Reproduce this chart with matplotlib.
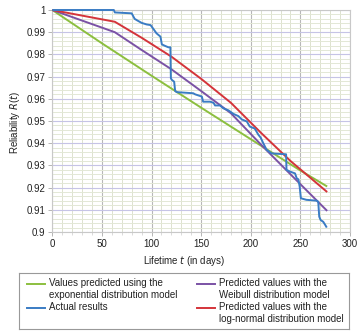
import matplotlib
matplotlib.use("Agg")
import matplotlib.pyplot as plt
from matplotlib.ticker import MultipleLocator
from matplotlib.lines import Line2D

plt.rcParams['font.family'] = ['Liberation Sans', 'DejaVu Sans']

# Exponential model
t_exp = [0, 50, 100, 150, 200, 250, 277]
r_exp = [1.0, 0.985, 0.9704, 0.956, 0.9418, 0.9277, 0.9205]

# Weibull model
t_wei = [0, 63, 90, 120, 150, 180, 210, 240, 277]
r_wei = [1.0, 0.990, 0.982, 0.9733, 0.9635, 0.9535, 0.9395, 0.926, 0.9095]

# Log-normal model
t_log = [0, 63, 90, 120, 150, 180, 210, 240, 277]
r_log = [1.0, 0.9947, 0.9875, 0.9790, 0.9690, 0.9582, 0.9448, 0.932, 0.918]

# Observed reliability
t_act = [0, 62, 63, 80, 83, 86, 90, 95, 99, 102, 105, 109, 110.4, 113.8, 117,
         119, 119.5, 120.5, 122.8, 123.8, 125.5, 142, 144, 150.7, 152, 159,
         162.5, 164, 169, 172.4, 177.5, 182.5, 187.5, 191, 196, 199, 204,
         207.7, 210, 212.8, 216, 221, 235.6, 236, 239.6, 244.6, 246.3, 248,
         249.3, 250.5, 256, 266.5, 268, 269, 270.4, 273, 275, 276.6]
r_act = [1.0, 1.0, 0.9989, 0.9985, 0.996, 0.9952, 0.9942, 0.9935, 0.9932,
         0.9914, 0.9895, 0.988, 0.9845, 0.9838, 0.9832, 0.9832, 0.9692, 0.9685,
         0.9677, 0.9635, 0.963, 0.9625, 0.962, 0.961, 0.9587, 0.9587, 0.9582,
         0.957, 0.957, 0.9557, 0.9548, 0.9532, 0.9522, 0.9507, 0.9498, 0.9475,
         0.9466, 0.9438, 0.9425, 0.9398, 0.937, 0.9354, 0.935, 0.928, 0.9272,
         0.9264, 0.9242, 0.9237, 0.9204, 0.9152, 0.9145, 0.9141, 0.9136,
         0.9069, 0.9054, 0.9046, 0.9032, 0.902]

GREEN = '#8cbf3f'
PURPLE = '#7b52a5'
BLUE = '#3a7cc4'
RED = '#d4343a'

W, H = 363, 335
fig = plt.figure(figsize=(W / 100, H / 100), dpi=100)

ax = fig.add_axes([52.3 / W, 1 - 232 / H, (350 - 52.3) / W, (232 - 10) / H])
ax.set_xlim(0, 300)
ax.set_ylim(0.9, 1.0)

ax.xaxis.set_major_locator(MultipleLocator(50))
ax.xaxis.set_minor_locator(MultipleLocator(10))
ax.yaxis.set_major_locator(MultipleLocator(0.01))
ax.yaxis.set_minor_locator(MultipleLocator(0.002))

ax.grid(True, which='minor', axis='x', color='#dde2cf', lw=0.7)
ax.grid(True, which='minor', axis='y', color='#e3e8d6', lw=0.7)
ax.grid(True, which='major', axis='x', color='#b8b8b8', lw=0.8)
ax.grid(True, which='major', axis='y', color='#c6c4e6', lw=0.8)
ax.set_axisbelow(True)

for s in ax.spines.values():
    s.set_color('#c8c8c8')
    s.set_linewidth(0.8)

ax.tick_params(axis='both', which='major', labelsize=7, color='#aaaaaa',
               length=3, width=0.6, pad=2, labelcolor='#222222')
ax.tick_params(axis='x', which='minor', color='#cccccc', length=2, width=0.5)
ax.tick_params(axis='y', which='minor', length=0)

ax.set_yticks([0.9, 0.91, 0.92, 0.93, 0.94, 0.95, 0.96, 0.97, 0.98, 0.99, 1.0])
ax.set_yticklabels(['0.9', '0.91', '0.92', '0.93', '0.94', '0.95', '0.96',
                    '0.97', '0.98', '0.99', '1'])

line_kw = dict(lw=1.4, solid_capstyle='butt', clip_on=False, zorder=3)
ax.plot(t_exp, r_exp, color=GREEN, **line_kw)
ax.plot(t_wei, r_wei, color=PURPLE, **line_kw)
ax.plot(t_log, r_log, color=RED, **line_kw)
ax.plot(t_act, r_act, color=BLUE, **line_kw)

fig.text(184 / W, 1 - 261 / H, 'Lifetime $\\mathit{t}$ (in days)', ha='center',
         va='center', fontsize=7, color='#222222')
fig.text(15 / W, 1 - 123 / H, 'Reliability $\\mathit{R}$($\\mathit{t}$)',
         rotation=90, ha='center', va='center', fontsize=7, color='#222222')

# Legend panel
lx0, lx1, ly0, ly1 = 19, 349.3, 272.7, 329.3
lax = fig.add_axes([lx0 / W, 1 - ly1 / H, (lx1 - lx0) / W, (ly1 - ly0) / H])
lax.set_xlim(lx0, lx1)
lax.set_ylim(ly1, ly0)
lax.set_xticks([])
lax.set_yticks([])
for s in lax.spines.values():
    s.set_color('#999999')
    s.set_linewidth(0.8)

entries = [
    (GREEN, 27, 283.5, 'Values predicted using the\nexponential distribution model'),
    (BLUE, 27, 307.5, 'Actual results'),
    (PURPLE, 197, 283.5, 'Predicted values with the\nWeibull distribution model'),
    (RED, 197, 307.5, 'Predicted values with the\nlog-normal distribution model'),
]
for color, x0, y0, label in entries:
    lax.add_line(Line2D([x0, x0 + 18], [y0, y0], color=color, lw=1.4))
    lax.text(x0 + 22, y0 - 5, label, ha='left', va='top', fontsize=7,
             color='#222222', linespacing=1.15)

fig.savefig('out.png', dpi=100)
